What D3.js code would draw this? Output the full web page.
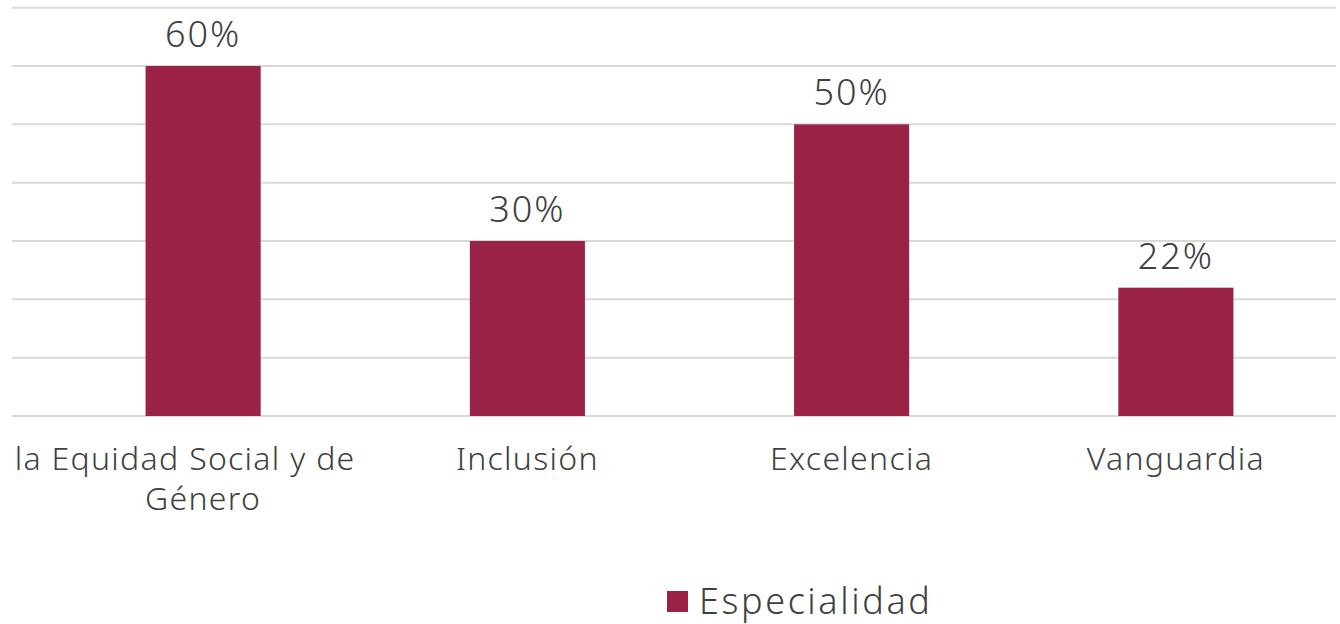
<!DOCTYPE html>
<html>
<head>
<meta charset="utf-8">
<script src="https://cdn.jsdelivr.net/npm/d3@7"></script>
<style>
  body { margin: 0; background: #fff; }
  text { font-family: "Noto Sans", "Open Sans", sans-serif; font-weight: 300; fill: #404040; }
</style>
</head>
<body>
<div id="wrapper"></div>
<script>
// data
const categories = ["Equidad", "Inclusión", "Excelencia", "Vanguardia"];
const labelLines = [["la Equidad Social y de", "Género"], ["Inclusión"], ["Excelencia"], ["Vanguardia"]];
const values = [0.60, 0.30, 0.50, 0.22];
const seriesName = "Especialidad";
const gridTicks = [0, 0.1, 0.2, 0.3, 0.4, 0.5, 0.6, 0.7];

// dimensions
const width = 1340, height = 624;
const barColor = "#9b2247";

const svg = d3.select("#wrapper").append("svg")
  .attr("width", width)
  .attr("height", height);

// scales
const x = d3.scaleBand()
  .domain(categories)
  .range([41, 1338])
  .paddingInner(0.645)
  .paddingOuter(0.3225);

const y = d3.scaleLinear()
  .domain([0, 0.6])
  .range([416, 66]);

// gridlines
svg.append("g")
  .selectAll("line")
  .data(gridTicks)
  .join("line")
  .attr("x1", 12)
  .attr("x2", 1336)
  .attr("y1", d => y(d))
  .attr("y2", d => y(d))
  .attr("stroke", "#d9d9d9")
  .attr("stroke-width", 2);

// bars
svg.append("g")
  .selectAll("rect")
  .data(values)
  .join("rect")
  .attr("x", (d, i) => x(categories[i]))
  .attr("width", x.bandwidth())
  .attr("y", d => y(d))
  .attr("height", d => y(0) - y(d))
  .attr("fill", barColor);

// value labels
svg.append("g")
  .selectAll("text")
  .data(values)
  .join("text")
  .attr("x", (d, i) => x(categories[i]) + x.bandwidth() / 2)
  .attr("y", d => y(d) - 19)
  .attr("text-anchor", "middle")
  .style("font-size", "36px")
  .style("letter-spacing", "2px")
  .text(d => d3.format(".0%")(d));

// category labels (first one is shifted left / clipped like the original)
const cat = svg.append("g")
  .selectAll("text")
  .data(labelLines)
  .join("text")
  .attr("text-anchor", "middle")
  .style("font-size", "32px")
  .style("letter-spacing", "1.3px")
  .attr("transform", (d, i) => {
    const cx = x(categories[i]) + x.bandwidth() / 2;
    return `translate(${cx},470)`;
  });

cat.selectAll("tspan")
  .data((d, i) => d.map((t, j) => ({t, j, shift: (i === 0 && j === 0) ? -18 : 0})))
  .join("tspan")
  .attr("x", d => d.shift)
  .attr("y", d => d.j * 40)
  .text(d => d.t);

// legend
const legend = svg.append("g").attr("transform", "translate(667,591)");
legend.append("rect")
  .attr("width", 21)
  .attr("height", 21)
  .attr("fill", barColor);
legend.append("text")
  .attr("x", 32)
  .attr("y", 23)
  .style("font-size", "36px")
  .style("letter-spacing", "2.6px")
  .text(seriesName);
</script>
</body>
</html>
